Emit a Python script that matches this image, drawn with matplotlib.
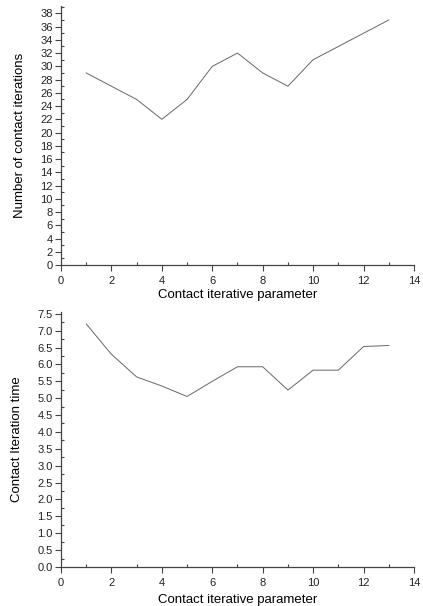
import numpy as np
import matplotlib.pyplot as plt
from matplotlib.ticker import MultipleLocator

plt.rcParams['font.family'] = ['Liberation Sans', 'DejaVu Sans']

param = [1, 2, 3, 4, 5, 6, 7, 8, 9, 10, 11, 12, 13]
n_iter = [29, 27, 25, 22, 25, 30, 32, 29, 27, 31, 33, 35, 37]
iter_time = [7.2, 6.3, 5.63, 5.36, 5.05, 5.5, 5.93, 5.93, 5.24, 5.83, 5.83, 6.53, 6.56]

fig = plt.figure(figsize=(4.23, 6.06), dpi=100)
ax1 = fig.add_axes([0.1442, 0.5627, 0.8345, 0.4273])
ax2 = fig.add_axes([0.1442, 0.0644, 0.8345, 0.4206])

def style(ax, ymaj, ymin):
    for s in ['top', 'right']:
        ax.spines[s].set_visible(False)
    for s in ['left', 'bottom']:
        ax.spines[s].set_color('#444444')
        ax.spines[s].set_linewidth(0.9)
    ax.set_xlim(0, 14)
    ax.xaxis.set_major_locator(MultipleLocator(2))
    ax.xaxis.set_minor_locator(MultipleLocator(1))
    ax.yaxis.set_major_locator(MultipleLocator(ymaj))
    ax.yaxis.set_minor_locator(MultipleLocator(ymin))
    ax.tick_params(which='major', direction='out', length=4, width=0.8,
                   color='#444444', labelsize=8, labelcolor='#222222', pad=2)
    ax.tick_params(which='minor', direction='in', length=2.5, width=0.8,
                   color='#444444')
    ax.tick_params(axis='x', which='major', pad=4)

ax1.plot(param, n_iter, color='#666666', lw=0.7)
style(ax1, 2, 1)
ax1.set_ylim(0, 39.1)
ax1.set_xlabel('Contact iterative parameter', fontsize=9.5, labelpad=2)
ax1.set_ylabel('Number of contact iterations', fontsize=9.5, labelpad=10)

ax2.plot(param, iter_time, color='#666666', lw=0.7)
style(ax2, 0.5, 0.25)
ax2.set_ylim(0, 7.55)
ax2.yaxis.set_major_formatter(plt.FormatStrFormatter('%.1f'))
ax2.set_xlabel('Contact iterative parameter', fontsize=9.5, labelpad=4)
ax2.set_ylabel('Contact Iteration time', fontsize=9.5, labelpad=10)

fig.savefig('out.png', dpi=100)
